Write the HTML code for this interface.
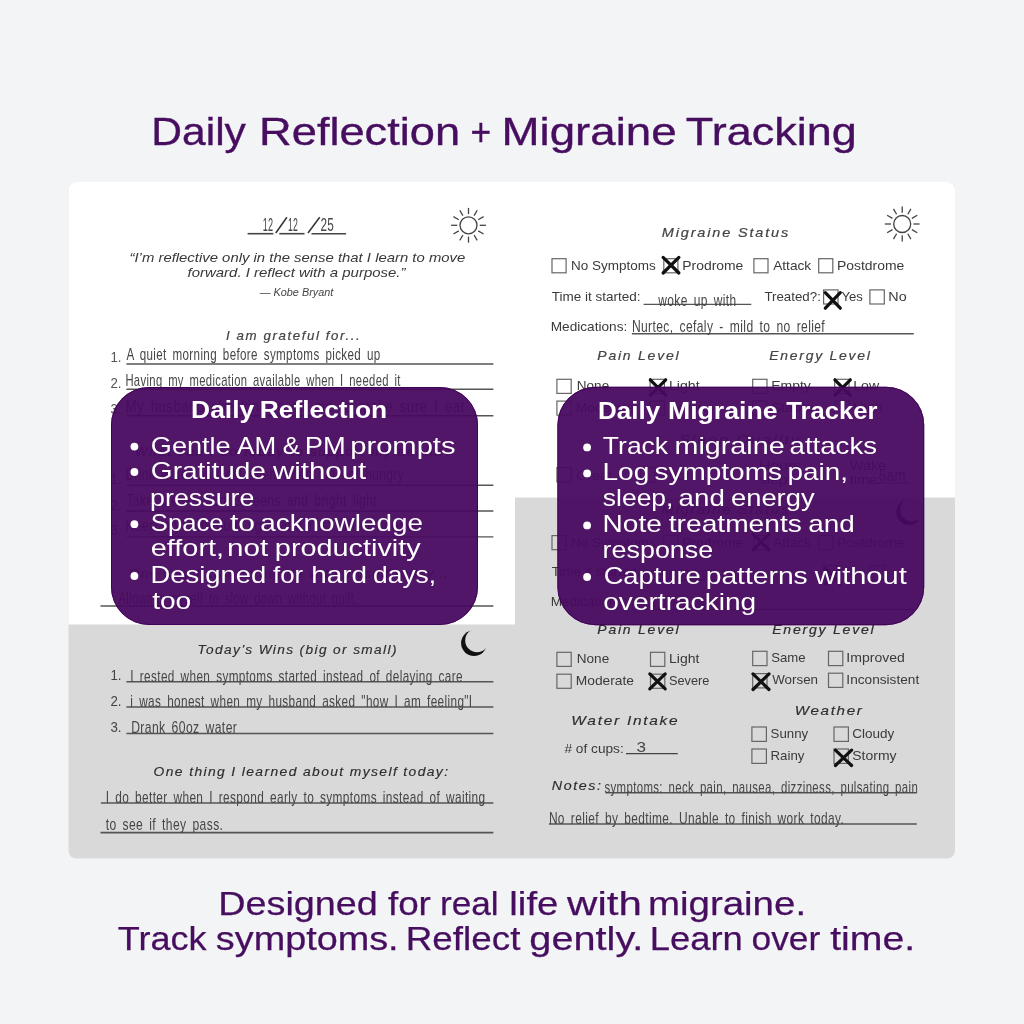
<!DOCTYPE html><html><head><meta charset="utf-8"><style>html,body{margin:0;padding:0;background:#f3f4f6;width:1024px;height:1024px;overflow:hidden}svg{display:block;font-family:"Liberation Sans",sans-serif;will-change:transform}</style></head><body>
<svg width="1024" height="1024" viewBox="0 0 1024 1024">
<rect width="1024" height="1024" fill="#f3f4f6"/>
<clipPath id="card"><rect x="68.5" y="182" width="886.5" height="676.5" rx="8"/></clipPath>
<g clip-path="url(#card)">
<rect x="68" y="182" width="888" height="677" fill="#d9d9d9"/>
<rect x="68" y="182" width="447" height="442.5" fill="#ffffff"/>
<rect x="515" y="182" width="441" height="315.5" fill="#ffffff"/>
</g>
<line x1="247.6" y1="233.7" x2="273.4" y2="233.7" stroke="#444" stroke-width="1.6"/>
<line x1="279.3" y1="233.7" x2="304.5" y2="233.7" stroke="#444" stroke-width="1.6"/>
<line x1="311.5" y1="233.7" x2="346.1" y2="233.7" stroke="#444" stroke-width="1.6"/>
<line x1="275.8" y1="233" x2="286.9" y2="217.3" stroke="#333" stroke-width="1.5"/>
<line x1="308" y1="233" x2="319.7" y2="217.3" stroke="#333" stroke-width="1.5"/>
<circle cx="468.5" cy="225.3" r="8.5" fill="none" stroke="#444" stroke-width="1.35"/><line x1="479.70" y1="225.30" x2="485.90" y2="225.30" stroke="#444" stroke-width="1.3"/><line x1="478.20" y1="230.90" x2="483.57" y2="234.00" stroke="#444" stroke-width="1.3"/><line x1="474.10" y1="235.00" x2="477.20" y2="240.37" stroke="#444" stroke-width="1.3"/><line x1="468.50" y1="236.50" x2="468.50" y2="242.70" stroke="#444" stroke-width="1.3"/><line x1="462.90" y1="235.00" x2="459.80" y2="240.37" stroke="#444" stroke-width="1.3"/><line x1="458.80" y1="230.90" x2="453.43" y2="234.00" stroke="#444" stroke-width="1.3"/><line x1="457.30" y1="225.30" x2="451.10" y2="225.30" stroke="#444" stroke-width="1.3"/><line x1="458.80" y1="219.70" x2="453.43" y2="216.60" stroke="#444" stroke-width="1.3"/><line x1="462.90" y1="215.60" x2="459.80" y2="210.23" stroke="#444" stroke-width="1.3"/><line x1="468.50" y1="214.10" x2="468.50" y2="207.90" stroke="#444" stroke-width="1.3"/><line x1="474.10" y1="215.60" x2="477.20" y2="210.23" stroke="#444" stroke-width="1.3"/><line x1="478.20" y1="219.70" x2="483.57" y2="216.60" stroke="#444" stroke-width="1.3"/>
<line x1="126.4" y1="364" x2="493.4" y2="364" stroke="#555" stroke-width="1.4"/>
<line x1="126.4" y1="389.3" x2="493.4" y2="389.3" stroke="#555" stroke-width="1.4"/>
<line x1="126.4" y1="415.7" x2="493.4" y2="415.7" stroke="#555" stroke-width="1.4"/>
<line x1="126.4" y1="485.2" x2="493.4" y2="485.2" stroke="#555" stroke-width="1.4"/>
<line x1="126.4" y1="511" x2="493.4" y2="511" stroke="#555" stroke-width="1.4"/>
<line x1="126.4" y1="536.9" x2="493.4" y2="536.9" stroke="#555" stroke-width="1.4"/>
<line x1="100.5" y1="606" x2="493.4" y2="606" stroke="#555" stroke-width="1.4"/>
<mask id="m1"><rect x="440" y="620" width="60" height="60" fill="#fff"/><circle cx="477.1" cy="640.4" r="11.9" fill="#000"/></mask><circle cx="474" cy="643.1" r="12.9" fill="#111" mask="url(#m1)"/>
<line x1="126.4" y1="681.8" x2="493.4" y2="681.8" stroke="#555" stroke-width="1.5"/>
<line x1="126.4" y1="707.1" x2="493.4" y2="707.1" stroke="#555" stroke-width="1.5"/>
<line x1="126.4" y1="733.5" x2="493.4" y2="733.5" stroke="#555" stroke-width="1.5"/>
<line x1="100.9" y1="802.9" x2="493.4" y2="802.9" stroke="#555" stroke-width="1.5"/>
<line x1="100.5" y1="832.7" x2="493.4" y2="832.7" stroke="#555" stroke-width="1.8"/>
<circle cx="902.2" cy="224" r="8.5" fill="none" stroke="#444" stroke-width="1.35"/><line x1="913.40" y1="224.00" x2="919.60" y2="224.00" stroke="#444" stroke-width="1.3"/><line x1="911.90" y1="229.60" x2="917.27" y2="232.70" stroke="#444" stroke-width="1.3"/><line x1="907.80" y1="233.70" x2="910.90" y2="239.07" stroke="#444" stroke-width="1.3"/><line x1="902.20" y1="235.20" x2="902.20" y2="241.40" stroke="#444" stroke-width="1.3"/><line x1="896.60" y1="233.70" x2="893.50" y2="239.07" stroke="#444" stroke-width="1.3"/><line x1="892.50" y1="229.60" x2="887.13" y2="232.70" stroke="#444" stroke-width="1.3"/><line x1="891.00" y1="224.00" x2="884.80" y2="224.00" stroke="#444" stroke-width="1.3"/><line x1="892.50" y1="218.40" x2="887.13" y2="215.30" stroke="#444" stroke-width="1.3"/><line x1="896.60" y1="214.30" x2="893.50" y2="208.93" stroke="#444" stroke-width="1.3"/><line x1="902.20" y1="212.80" x2="902.20" y2="206.60" stroke="#444" stroke-width="1.3"/><line x1="907.80" y1="214.30" x2="910.90" y2="208.93" stroke="#444" stroke-width="1.3"/><line x1="911.90" y1="218.40" x2="917.27" y2="215.30" stroke="#444" stroke-width="1.3"/>
<rect x="552.00" y="258.70" width="14.10" height="14.10" fill="none" stroke="#666" stroke-width="1.2"/>
<rect x="663.80" y="258.70" width="14.10" height="14.10" fill="none" stroke="#666" stroke-width="1.2"/>
<rect x="753.90" y="258.70" width="14.10" height="14.10" fill="none" stroke="#666" stroke-width="1.2"/>
<rect x="818.70" y="258.70" width="14.10" height="14.10" fill="none" stroke="#666" stroke-width="1.2"/>
<path d="M663.0999999999999 257.40000000000003L678.9000000000001 273.0M678.9000000000001 257.40000000000003L663.0999999999999 273.0" stroke="#111" stroke-width="3.2" stroke-linecap="round" fill="none"/>
<line x1="643.6" y1="304.4" x2="751.3" y2="304.4" stroke="#555" stroke-width="1.4"/>
<rect x="823.60" y="289.90" width="14.40" height="14.10" fill="none" stroke="#666" stroke-width="1.2"/>
<path d="M825.3 292.6L840.3000000000001 308.2M840.3000000000001 292.6L825.3 308.2" stroke="#111" stroke-width="3.2" stroke-linecap="round" fill="none"/>
<rect x="869.90" y="289.90" width="14.40" height="14.10" fill="none" stroke="#666" stroke-width="1.2"/>
<line x1="631.9" y1="333.7" x2="913.8" y2="333.7" stroke="#555" stroke-width="1.4"/>
<rect x="556.90" y="379.30" width="14.30" height="14.10" fill="none" stroke="#666" stroke-width="1.2"/>
<rect x="556.90" y="401.10" width="14.30" height="14.00" fill="none" stroke="#666" stroke-width="1.2"/>
<rect x="650.10" y="379.30" width="14.30" height="14.10" fill="none" stroke="#666" stroke-width="1.2"/>
<rect x="650.10" y="401.10" width="14.30" height="14.00" fill="none" stroke="#666" stroke-width="1.2"/>
<rect x="752.70" y="379.30" width="14.30" height="14.10" fill="none" stroke="#666" stroke-width="1.2"/>
<rect x="752.70" y="401.10" width="14.30" height="14.00" fill="none" stroke="#666" stroke-width="1.2"/>
<rect x="834.70" y="379.30" width="14.30" height="14.10" fill="none" stroke="#666" stroke-width="1.2"/>
<rect x="834.70" y="401.10" width="14.30" height="14.00" fill="none" stroke="#666" stroke-width="1.2"/>
<path d="M650.3 379.8L665.7 395.3M665.7 379.8L650.3 395.3" stroke="#111" stroke-width="3.2" stroke-linecap="round" fill="none"/>
<path d="M834.9 379.8L850.3000000000001 395.3M850.3000000000001 379.8L834.9 395.3" stroke="#111" stroke-width="3.2" stroke-linecap="round" fill="none"/>
<rect x="556.90" y="467.60" width="14.30" height="14.30" fill="none" stroke="#666" stroke-width="1.2"/>
<rect x="640.60" y="467.60" width="14.30" height="14.30" fill="none" stroke="#666" stroke-width="1.2"/>
<line x1="868" y1="483" x2="910" y2="483" stroke="#555" stroke-width="1.2"/>
<mask id="m2"><rect x="875.1" y="489.1" width="60" height="60" fill="#fff"/><circle cx="912.2" cy="509.5" r="11.9" fill="#000"/></mask><circle cx="909.1" cy="512.2" r="12.9" fill="#111" mask="url(#m2)"/>
<rect x="552.00" y="535.60" width="14.10" height="14.10" fill="none" stroke="#666" stroke-width="1.2"/>
<rect x="663.80" y="535.60" width="14.10" height="14.10" fill="none" stroke="#666" stroke-width="1.2"/>
<rect x="753.90" y="535.60" width="14.10" height="14.10" fill="none" stroke="#666" stroke-width="1.2"/>
<rect x="818.70" y="535.60" width="14.10" height="14.10" fill="none" stroke="#666" stroke-width="1.2"/>
<path d="M753.0999999999999 534.3L768.9000000000001 549.9000000000001M768.9000000000001 534.3L753.0999999999999 549.9000000000001" stroke="#111" stroke-width="3.2" stroke-linecap="round" fill="none"/>
<line x1="643.6" y1="580" x2="751.3" y2="580" stroke="#555" stroke-width="1.4"/>
<rect x="823.60" y="565.60" width="14.40" height="14.10" fill="none" stroke="#666" stroke-width="1.2"/>
<path d="M825.3 568.3L840.3000000000001 583.9000000000001M840.3000000000001 568.3L825.3 583.9000000000001" stroke="#111" stroke-width="3.2" stroke-linecap="round" fill="none"/>
<rect x="869.90" y="565.60" width="14.40" height="14.10" fill="none" stroke="#666" stroke-width="1.2"/>
<line x1="631.9" y1="609.5" x2="913.8" y2="609.5" stroke="#555" stroke-width="1.4"/>
<rect x="556.90" y="652.30" width="14.30" height="14.10" fill="none" stroke="#666" stroke-width="1.2"/>
<rect x="650.50" y="652.30" width="14.30" height="14.10" fill="none" stroke="#666" stroke-width="1.2"/>
<rect x="556.90" y="674.20" width="14.30" height="14.10" fill="none" stroke="#666" stroke-width="1.2"/>
<rect x="650.50" y="674.20" width="14.30" height="14.10" fill="none" stroke="#666" stroke-width="1.2"/>
<path d="M649.8 673.9L665.2 688.9000000000001M665.2 673.9L649.8 688.9000000000001" stroke="#111" stroke-width="3.2" stroke-linecap="round" fill="none"/>
<rect x="752.70" y="651.30" width="14.30" height="14.30" fill="none" stroke="#666" stroke-width="1.2"/>
<rect x="828.50" y="651.30" width="14.30" height="14.30" fill="none" stroke="#666" stroke-width="1.2"/>
<rect x="752.70" y="673.60" width="14.30" height="14.30" fill="none" stroke="#666" stroke-width="1.2"/>
<rect x="828.50" y="673.20" width="14.30" height="14.20" fill="none" stroke="#666" stroke-width="1.2"/>
<path d="M753.0 673.9L769.0 689.5M769.0 673.9L753.0 689.5" stroke="#111" stroke-width="3.2" stroke-linecap="round" fill="none"/>
<line x1="626" y1="753.7" x2="677.8" y2="753.7" stroke="#444" stroke-width="1.3"/>
<rect x="751.90" y="727.00" width="14.50" height="14.40" fill="none" stroke="#666" stroke-width="1.2"/>
<rect x="834.00" y="727.00" width="14.40" height="14.40" fill="none" stroke="#666" stroke-width="1.2"/>
<rect x="751.90" y="749.00" width="14.50" height="14.40" fill="none" stroke="#666" stroke-width="1.2"/>
<rect x="834.00" y="749.00" width="14.40" height="14.40" fill="none" stroke="#666" stroke-width="1.2"/>
<path d="M835.4 750.0999999999999L851.6 765.5M851.6 750.0999999999999L835.4 765.5" stroke="#111" stroke-width="3.2" stroke-linecap="round" fill="none"/>
<line x1="605.5" y1="792.8" x2="916.8" y2="792.8" stroke="#555" stroke-width="1.4"/>
<line x1="548.9" y1="824" x2="916.8" y2="824" stroke="#555" stroke-width="1.5"/>
<text x="151.21" y="144.80" textLength="94.69" lengthAdjust="spacingAndGlyphs" fill="#470e60" style="font-size:39.3px;stroke:#470e60;stroke-width:0.35px;">Daily</text>
<text x="259.11" y="144.80" textLength="200.98" lengthAdjust="spacingAndGlyphs" fill="#470e60" style="font-size:39.3px;stroke:#470e60;stroke-width:0.35px;">Reflection</text>
<text x="470.53" y="144.80" textLength="20.65" lengthAdjust="spacingAndGlyphs" fill="#470e60" style="font-size:39.3px;stroke:#470e60;stroke-width:0.35px;">+</text>
<text x="501.51" y="144.80" textLength="175.15" lengthAdjust="spacingAndGlyphs" fill="#470e60" style="font-size:39.3px;stroke:#470e60;stroke-width:0.35px;">Migraine</text>
<text x="685.88" y="144.80" textLength="170.89" lengthAdjust="spacingAndGlyphs" fill="#470e60" style="font-size:39.3px;stroke:#470e60;stroke-width:0.35px;">Tracking</text>
<text x="218.30" y="914.90" textLength="159.58" lengthAdjust="spacingAndGlyphs" fill="#470e60" style="font-size:32.6px;stroke:#470e60;stroke-width:0.25px;">Designed</text>
<text x="387.90" y="914.90" textLength="43.01" lengthAdjust="spacingAndGlyphs" fill="#470e60" style="font-size:32.6px;stroke:#470e60;stroke-width:0.25px;">for</text>
<text x="439.93" y="914.90" textLength="58.75" lengthAdjust="spacingAndGlyphs" fill="#470e60" style="font-size:32.6px;stroke:#470e60;stroke-width:0.25px;">real</text>
<text x="509.34" y="914.90" textLength="49.08" lengthAdjust="spacingAndGlyphs" fill="#470e60" style="font-size:32.6px;stroke:#470e60;stroke-width:0.25px;">life</text>
<text x="567.10" y="914.90" textLength="74.71" lengthAdjust="spacingAndGlyphs" fill="#470e60" style="font-size:32.6px;stroke:#470e60;stroke-width:0.25px;">with</text>
<text x="647.93" y="914.90" textLength="158.17" lengthAdjust="spacingAndGlyphs" fill="#470e60" style="font-size:32.6px;stroke:#470e60;stroke-width:0.25px;">migraine.</text>
<text x="117.79" y="949.60" textLength="88.81" lengthAdjust="spacingAndGlyphs" fill="#470e60" style="font-size:32.6px;stroke:#470e60;stroke-width:0.25px;">Track</text>
<text x="215.88" y="949.60" textLength="182.68" lengthAdjust="spacingAndGlyphs" fill="#470e60" style="font-size:32.6px;stroke:#470e60;stroke-width:0.25px;">symptoms.</text>
<text x="405.71" y="949.60" textLength="114.70" lengthAdjust="spacingAndGlyphs" fill="#470e60" style="font-size:32.6px;stroke:#470e60;stroke-width:0.25px;">Reflect</text>
<text x="529.36" y="949.60" textLength="113.94" lengthAdjust="spacingAndGlyphs" fill="#470e60" style="font-size:32.6px;stroke:#470e60;stroke-width:0.25px;">gently.</text>
<text x="649.72" y="949.60" textLength="93.09" lengthAdjust="spacingAndGlyphs" fill="#470e60" style="font-size:32.6px;stroke:#470e60;stroke-width:0.25px;">Learn</text>
<text x="751.48" y="949.60" textLength="68.83" lengthAdjust="spacingAndGlyphs" fill="#470e60" style="font-size:32.6px;stroke:#470e60;stroke-width:0.25px;">over</text>
<text x="830.20" y="949.60" textLength="85.11" lengthAdjust="spacingAndGlyphs" fill="#470e60" style="font-size:32.6px;stroke:#470e60;stroke-width:0.25px;">time.</text>
<text transform="translate(0 230.80) scale(1 1.32)" x="262.67" y="0" textLength="10.67" lengthAdjust="spacingAndGlyphs" fill="#464646" style="font-size:14.258064516129032px;letter-spacing:0.4px;word-spacing:2.5px;">12</text>
<text transform="translate(0 230.80) scale(1 1.32)" x="287.90" y="0" textLength="10.14" lengthAdjust="spacingAndGlyphs" fill="#464646" style="font-size:14.258064516129032px;letter-spacing:0.4px;word-spacing:2.5px;">12</text>
<text transform="translate(0 230.80) scale(1 1.32)" x="320.38" y="0" textLength="13.75" lengthAdjust="spacingAndGlyphs" fill="#464646" style="font-size:14.258064516129032px;letter-spacing:0.4px;word-spacing:2.5px;">25</text>
<text x="129.50" y="261.70" textLength="335.81" lengthAdjust="spacingAndGlyphs" fill="#383838" style="font-size:13.6px;font-style:italic;">“I’m reflective only in the sense that I learn to move</text>
<text x="187.50" y="277.20" textLength="218.00" lengthAdjust="spacingAndGlyphs" fill="#383838" style="font-size:13.6px;font-style:italic;">forward. I reflect with a purpose.”</text>
<text x="259.70" y="295.60" textLength="73.60" lengthAdjust="spacingAndGlyphs" fill="#444" style="font-size:10px;font-style:italic;">— Kobe Bryant</text>
<text x="226.00" y="339.50" textLength="135.30" lengthAdjust="spacingAndGlyphs" fill="#444" style="font-size:12.6px;stroke:#444;stroke-width:0.2px;font-style:italic;letter-spacing:1.5px;">I am grateful for...</text>
<text x="110.44" y="362.00" textLength="11.06" lengthAdjust="spacingAndGlyphs" fill="#555" style="font-size:14px;">1.</text>
<text x="110.44" y="388.40" textLength="11.06" lengthAdjust="spacingAndGlyphs" fill="#555" style="font-size:14px;">2.</text>
<text x="110.44" y="413.70" textLength="11.06" lengthAdjust="spacingAndGlyphs" fill="#555" style="font-size:14px;">3.</text>
<text transform="translate(0 360.20) scale(1 1.32)" x="126.40" y="0" textLength="254.20" lengthAdjust="spacingAndGlyphs" fill="#464646" style="font-size:13.0px;letter-spacing:0.4px;word-spacing:2.5px;">A quiet morning before symptoms picked up</text>
<text transform="translate(0 386.00) scale(1 1.32)" x="125.40" y="0" textLength="275.41" lengthAdjust="spacingAndGlyphs" fill="#464646" style="font-size:13.0px;letter-spacing:0.4px;word-spacing:2.5px;">Having my medication available when I needed it</text>
<text transform="translate(0 411.80) scale(1 1.32)" x="125.40" y="0" textLength="339.21" lengthAdjust="spacingAndGlyphs" fill="#464646" style="font-size:13.0px;letter-spacing:0.4px;word-spacing:2.5px;">My husband checking in on me to make sure I eat</text>
<text x="134.99" y="456.00" textLength="318.03" lengthAdjust="spacingAndGlyphs" fill="#444" style="font-size:12.6px;stroke:#444;stroke-width:0.2px;font-style:italic;letter-spacing:1.5px;">What can I do today to support my health?</text>
<text x="110.44" y="484.00" textLength="11.06" lengthAdjust="spacingAndGlyphs" fill="#555" style="font-size:14px;">1.</text>
<text x="110.44" y="510.00" textLength="11.06" lengthAdjust="spacingAndGlyphs" fill="#555" style="font-size:14px;">2.</text>
<text x="110.44" y="535.00" textLength="11.06" lengthAdjust="spacingAndGlyphs" fill="#555" style="font-size:14px;">3.</text>
<text transform="translate(0 479.60) scale(1 1.32)" x="125.40" y="0" textLength="278.61" lengthAdjust="spacingAndGlyphs" fill="#464646" style="font-size:13.0px;letter-spacing:0.4px;word-spacing:2.5px;">Drink water and eat even when I’m not hungry</text>
<text transform="translate(0 506.00) scale(1 1.32)" x="126.40" y="0" textLength="250.60" lengthAdjust="spacingAndGlyphs" fill="#464646" style="font-size:13.0px;letter-spacing:0.4px;word-spacing:2.5px;">Take breaks from screens and bright light</text>
<text transform="translate(0 531.00) scale(1 1.32)" x="125.39" y="0" textLength="296.22" lengthAdjust="spacingAndGlyphs" fill="#464646" style="font-size:13.0px;letter-spacing:0.4px;word-spacing:2.5px;">Keep my schedule light and rest when needed</text>
<text x="128.99" y="578.00" textLength="320.05" lengthAdjust="spacingAndGlyphs" fill="#444" style="font-size:12.6px;stroke:#444;stroke-width:0.2px;font-style:italic;letter-spacing:1.2px;">One way I can be gentle with myself today...</text>
<text transform="translate(0 603.50) scale(1 1.32)" x="118.40" y="0" textLength="239.21" lengthAdjust="spacingAndGlyphs" fill="#464646" style="font-size:13.0px;letter-spacing:0.4px;word-spacing:2.5px;">Allowing myself to slow down without guilt.</text>
<text x="197.58" y="654.40" textLength="200.25" lengthAdjust="spacingAndGlyphs" fill="#2e2e2e" style="font-size:12px;stroke:#2e2e2e;stroke-width:0.15px;font-style:italic;letter-spacing:1.2px;">Today’s Wins (big or small)</text>
<text x="110.44" y="680.40" textLength="11.06" lengthAdjust="spacingAndGlyphs" fill="#444" style="font-size:14px;">1.</text>
<text x="110.44" y="705.80" textLength="11.06" lengthAdjust="spacingAndGlyphs" fill="#444" style="font-size:14px;">2.</text>
<text x="110.44" y="732.00" textLength="11.06" lengthAdjust="spacingAndGlyphs" fill="#444" style="font-size:14px;">3.</text>
<text transform="translate(0 681.50) scale(1 1.32)" x="130.29" y="0" textLength="332.61" lengthAdjust="spacingAndGlyphs" fill="#464646" style="font-size:13.0px;letter-spacing:0.4px;word-spacing:2.5px;">I rested when symptoms started instead of delaying care</text>
<text transform="translate(0 707.00) scale(1 1.32)" x="130.29" y="0" textLength="342.22" lengthAdjust="spacingAndGlyphs" fill="#464646" style="font-size:13.0px;letter-spacing:0.4px;word-spacing:2.5px;">i was honest when my husband asked &quot;how I am feeling&quot;I</text>
<text transform="translate(0 733.00) scale(1 1.32)" x="131.19" y="0" textLength="106.02" lengthAdjust="spacingAndGlyphs" fill="#464646" style="font-size:13.0px;letter-spacing:0.4px;word-spacing:2.5px;">Drank 60oz water</text>
<text x="153.59" y="776.10" textLength="295.83" lengthAdjust="spacingAndGlyphs" fill="#2e2e2e" style="font-size:12px;stroke:#2e2e2e;stroke-width:0.15px;font-style:italic;letter-spacing:1.2px;">One thing I learned about myself today:</text>
<text transform="translate(0 802.50) scale(1 1.32)" x="105.69" y="0" textLength="379.81" lengthAdjust="spacingAndGlyphs" fill="#464646" style="font-size:13.0px;letter-spacing:0.4px;word-spacing:2.5px;">I do better when I respond early to symptoms instead of waiting</text>
<text transform="translate(0 830.00) scale(1 1.32)" x="105.70" y="0" textLength="117.61" lengthAdjust="spacingAndGlyphs" fill="#464646" style="font-size:13.0px;letter-spacing:0.4px;word-spacing:2.5px;">to see if they pass.</text>
<text x="661.80" y="237.20" textLength="128.24" lengthAdjust="spacingAndGlyphs" fill="#444" style="font-size:12.6px;stroke:#444;stroke-width:0.2px;font-style:italic;letter-spacing:1.6px;">Migraine Status</text>
<text x="570.98" y="269.80" textLength="84.82" lengthAdjust="spacingAndGlyphs" fill="#3a3a3a" style="font-size:12.6px;">No Symptoms</text>
<text x="682.26" y="269.80" textLength="61.07" lengthAdjust="spacingAndGlyphs" fill="#3a3a3a" style="font-size:12.6px;">Prodrome</text>
<text x="773.20" y="269.80" textLength="38.01" lengthAdjust="spacingAndGlyphs" fill="#3a3a3a" style="font-size:12.6px;">Attack</text>
<text x="836.97" y="269.80" textLength="67.27" lengthAdjust="spacingAndGlyphs" fill="#3a3a3a" style="font-size:12.6px;">Postdrome</text>
<text x="551.80" y="301.00" textLength="88.81" lengthAdjust="spacingAndGlyphs" fill="#3a3a3a" style="font-size:12.6px;">Time it started:</text>
<text transform="translate(0 305.50) scale(1 1.32)" x="658.30" y="0" textLength="78.22" lengthAdjust="spacingAndGlyphs" fill="#464646" style="font-size:13.0px;letter-spacing:0.4px;word-spacing:2.5px;">woke up with</text>
<text x="764.40" y="301.00" textLength="56.45" lengthAdjust="spacingAndGlyphs" fill="#3a3a3a" style="font-size:12.6px;">Treated?:</text>
<text x="841.44" y="301.00" textLength="21.48" lengthAdjust="spacingAndGlyphs" fill="#3a3a3a" style="font-size:12.6px;">Yes</text>
<text x="888.29" y="301.00" textLength="18.37" lengthAdjust="spacingAndGlyphs" fill="#3a3a3a" style="font-size:12.6px;">No</text>
<text x="550.77" y="330.70" textLength="76.47" lengthAdjust="spacingAndGlyphs" fill="#3a3a3a" style="font-size:12.6px;">Medications:</text>
<text transform="translate(0 332.00) scale(1 1.32)" x="631.89" y="0" textLength="193.21" lengthAdjust="spacingAndGlyphs" fill="#464646" style="font-size:13.0px;letter-spacing:0.4px;word-spacing:2.5px;">Nurtec, cefaly - mild to no relief</text>
<text x="597.30" y="360.10" textLength="83.03" lengthAdjust="spacingAndGlyphs" fill="#444" style="font-size:12.6px;stroke:#444;stroke-width:0.2px;font-style:italic;letter-spacing:1.6px;">Pain Level</text>
<text x="769.30" y="360.10" textLength="102.23" lengthAdjust="spacingAndGlyphs" fill="#444" style="font-size:12.6px;stroke:#444;stroke-width:0.2px;font-style:italic;letter-spacing:1.6px;">Energy Level</text>
<text x="576.76" y="389.80" textLength="32.45" lengthAdjust="spacingAndGlyphs" fill="#3a3a3a" style="font-size:12.6px;">None</text>
<text x="668.95" y="389.80" textLength="30.66" lengthAdjust="spacingAndGlyphs" fill="#3a3a3a" style="font-size:12.6px;">Light</text>
<text x="771.18" y="389.80" textLength="39.62" lengthAdjust="spacingAndGlyphs" fill="#3a3a3a" style="font-size:12.6px;">Empty</text>
<text x="853.24" y="389.80" textLength="25.89" lengthAdjust="spacingAndGlyphs" fill="#3a3a3a" style="font-size:12.6px;">Low</text>
<text x="575.76" y="411.50" textLength="58.28" lengthAdjust="spacingAndGlyphs" fill="#3a3a3a" style="font-size:12.6px;">Moderate</text>
<text x="668.95" y="411.50" textLength="40.48" lengthAdjust="spacingAndGlyphs" fill="#3a3a3a" style="font-size:12.6px;">Severe</text>
<text x="771.15" y="411.50" textLength="41.69" lengthAdjust="spacingAndGlyphs" fill="#3a3a3a" style="font-size:12.6px;">Stable</text>
<text x="853.23" y="411.50" textLength="29.51" lengthAdjust="spacingAndGlyphs" fill="#3a3a3a" style="font-size:12.6px;">High</text>
<text x="678.98" y="444.00" textLength="122.03" lengthAdjust="spacingAndGlyphs" fill="#444" style="font-size:12.6px;stroke:#444;stroke-width:0.2px;font-style:italic;letter-spacing:1.6px;">Sleep Quality</text>
<text x="575.97" y="480.00" textLength="36.03" lengthAdjust="spacingAndGlyphs" fill="#3a3a3a" style="font-size:12.6px;">Great</text>
<text x="658.97" y="480.00" textLength="31.03" lengthAdjust="spacingAndGlyphs" fill="#3a3a3a" style="font-size:12.6px;">Poor</text>
<text x="758.95" y="470.00" textLength="42.11" lengthAdjust="spacingAndGlyphs" fill="#3a3a3a" style="font-size:12.6px;">Hours</text>
<text x="758.94" y="484.00" textLength="37.12" lengthAdjust="spacingAndGlyphs" fill="#3a3a3a" style="font-size:12.6px;">slept:</text>
<text x="850.00" y="470.00" textLength="36.03" lengthAdjust="spacingAndGlyphs" fill="#3a3a3a" style="font-size:12.6px;">Wake</text>
<text x="850.00" y="484.00" textLength="31.03" lengthAdjust="spacingAndGlyphs" fill="#3a3a3a" style="font-size:12.6px;">time:</text>
<text transform="translate(0 481.00) scale(1 1.32)" x="878.91" y="0" textLength="27.17" lengthAdjust="spacingAndGlyphs" fill="#464646" style="font-size:13.0px;letter-spacing:0.4px;word-spacing:2.5px;">5am</text>
<text x="661.80" y="514.00" textLength="128.24" lengthAdjust="spacingAndGlyphs" fill="#444" style="font-size:12.6px;stroke:#444;stroke-width:0.2px;font-style:italic;letter-spacing:1.6px;">Migraine Status</text>
<text x="570.98" y="546.50" textLength="84.82" lengthAdjust="spacingAndGlyphs" fill="#3a3a3a" style="font-size:12.6px;">No Symptoms</text>
<text x="682.26" y="546.50" textLength="61.07" lengthAdjust="spacingAndGlyphs" fill="#3a3a3a" style="font-size:12.6px;">Prodrome</text>
<text x="773.20" y="546.50" textLength="38.01" lengthAdjust="spacingAndGlyphs" fill="#3a3a3a" style="font-size:12.6px;">Attack</text>
<text x="836.97" y="546.50" textLength="67.27" lengthAdjust="spacingAndGlyphs" fill="#3a3a3a" style="font-size:12.6px;">Postdrome</text>
<text x="551.80" y="576.00" textLength="88.81" lengthAdjust="spacingAndGlyphs" fill="#3a3a3a" style="font-size:12.6px;">Time it started:</text>
<text transform="translate(0 578.50) scale(1 1.32)" x="641.98" y="0" textLength="119.03" lengthAdjust="spacingAndGlyphs" fill="#464646" style="font-size:13.0px;letter-spacing:0.4px;word-spacing:2.5px;">increased from morning</text>
<text x="550.77" y="606.00" textLength="76.47" lengthAdjust="spacingAndGlyphs" fill="#3a3a3a" style="font-size:12.6px;">Medications:</text>
<text transform="translate(0 608.00) scale(1 1.32)" x="631.88" y="0" textLength="126.24" lengthAdjust="spacingAndGlyphs" fill="#464646" style="font-size:13.0px;letter-spacing:0.4px;word-spacing:2.5px;">Nurtec, cefaly, sleep - no relief.</text>
<text x="597.30" y="633.60" textLength="83.03" lengthAdjust="spacingAndGlyphs" fill="#2e2e2e" style="font-size:12.6px;stroke:#2e2e2e;stroke-width:0.2px;font-style:italic;letter-spacing:1.6px;">Pain Level</text>
<text x="772.20" y="633.60" textLength="103.23" lengthAdjust="spacingAndGlyphs" fill="#2e2e2e" style="font-size:12.6px;stroke:#2e2e2e;stroke-width:0.2px;font-style:italic;letter-spacing:1.6px;">Energy Level</text>
<text x="576.76" y="663.40" textLength="32.45" lengthAdjust="spacingAndGlyphs" fill="#3a3a3a" style="font-size:12.6px;">None</text>
<text x="668.98" y="663.40" textLength="30.42" lengthAdjust="spacingAndGlyphs" fill="#3a3a3a" style="font-size:12.6px;">Light</text>
<text x="575.76" y="685.30" textLength="58.28" lengthAdjust="spacingAndGlyphs" fill="#3a3a3a" style="font-size:12.6px;">Moderate</text>
<text x="668.95" y="685.30" textLength="40.48" lengthAdjust="spacingAndGlyphs" fill="#3a3a3a" style="font-size:12.6px;">Severe</text>
<text x="771.16" y="662.30" textLength="34.44" lengthAdjust="spacingAndGlyphs" fill="#3a3a3a" style="font-size:12.6px;">Same</text>
<text x="846.37" y="662.30" textLength="58.45" lengthAdjust="spacingAndGlyphs" fill="#3a3a3a" style="font-size:12.6px;">Improved</text>
<text x="772.20" y="684.30" textLength="45.82" lengthAdjust="spacingAndGlyphs" fill="#3a3a3a" style="font-size:12.6px;">Worsen</text>
<text x="846.39" y="684.30" textLength="72.81" lengthAdjust="spacingAndGlyphs" fill="#3a3a3a" style="font-size:12.6px;">Inconsistent</text>
<text x="571.27" y="725.40" textLength="108.12" lengthAdjust="spacingAndGlyphs" fill="#2e2e2e" style="font-size:12.6px;stroke:#2e2e2e;stroke-width:0.15px;font-style:italic;letter-spacing:1.4px;">Water Intake</text>
<text x="564.45" y="753.10" textLength="59.33" lengthAdjust="spacingAndGlyphs" fill="#3a3a3a" style="font-size:12.6px;"># of cups:</text>
<text transform="translate(0 752.00) scale(1 1.32)" x="636.50" y="0" textLength="10.14" lengthAdjust="spacingAndGlyphs" fill="#464646" style="font-size:11.32258064516129px;letter-spacing:0.4px;word-spacing:2.5px;">3</text>
<text x="794.66" y="714.60" textLength="68.89" lengthAdjust="spacingAndGlyphs" fill="#2e2e2e" style="font-size:12.6px;stroke:#2e2e2e;stroke-width:0.15px;font-style:italic;letter-spacing:1.4px;">Weather</text>
<text x="770.58" y="738.10" textLength="37.62" lengthAdjust="spacingAndGlyphs" fill="#3a3a3a" style="font-size:12.6px;">Sunny</text>
<text x="852.27" y="738.10" textLength="42.02" lengthAdjust="spacingAndGlyphs" fill="#3a3a3a" style="font-size:12.6px;">Cloudy</text>
<text x="770.55" y="760.20" textLength="33.86" lengthAdjust="spacingAndGlyphs" fill="#3a3a3a" style="font-size:12.6px;">Rainy</text>
<text x="852.26" y="760.20" textLength="44.26" lengthAdjust="spacingAndGlyphs" fill="#3a3a3a" style="font-size:12.6px;">Stormy</text>
<text x="551.80" y="789.80" textLength="50.88" lengthAdjust="spacingAndGlyphs" fill="#2e2e2e" style="font-size:12.6px;stroke:#2e2e2e;stroke-width:0.15px;font-style:italic;letter-spacing:1.4px;">Notes:</text>
<text transform="translate(0 792.50) scale(1 1.32)" x="604.49" y="0" textLength="313.62" lengthAdjust="spacingAndGlyphs" fill="#464646" style="font-size:13.0px;letter-spacing:0.4px;word-spacing:2.5px;">symptoms: neck pain, nausea, dizziness, pulsating pain</text>
<text transform="translate(0 823.50) scale(1 1.32)" x="548.89" y="0" textLength="295.22" lengthAdjust="spacingAndGlyphs" fill="#464646" style="font-size:13.0px;letter-spacing:0.4px;word-spacing:2.5px;">No relief by bedtime. Unable to finish work today.</text>
<rect x="111" y="387" width="367" height="238" rx="38" fill="#480a5f" fill-opacity="0.95"/>
<rect x="557.4" y="386.8" width="366.8" height="238.4" rx="38" fill="#480a5f" fill-opacity="0.95"/>
<rect x="111.5" y="387.5" width="366" height="237" rx="37.5" fill="none" stroke="#3e0056" stroke-width="1" stroke-opacity="0.9"/>
<rect x="557.9" y="387.3" width="365.8" height="237.4" rx="37.5" fill="none" stroke="#3e0056" stroke-width="1" stroke-opacity="0.9"/>
<circle cx="134.4" cy="446.6" r="3.9" fill="#fff"/>
<circle cx="134.4" cy="472" r="3.9" fill="#fff"/>
<circle cx="134.4" cy="524.2" r="3.9" fill="#fff"/>
<circle cx="134.4" cy="576" r="3.9" fill="#fff"/>
<circle cx="587.1" cy="447.4" r="3.9" fill="#fff"/>
<circle cx="587.1" cy="473.4" r="3.9" fill="#fff"/>
<circle cx="587.1" cy="525.4" r="3.9" fill="#fff"/>
<circle cx="587.1" cy="577" r="3.9" fill="#fff"/>
<text x="191.11" y="418.00" textLength="63.11" lengthAdjust="spacingAndGlyphs" fill="#ffffff" style="font-size:23.2px;font-weight:bold;">Daily</text>
<text x="259.85" y="418.00" textLength="127.28" lengthAdjust="spacingAndGlyphs" fill="#ffffff" style="font-size:23.2px;font-weight:bold;">Reflection</text>
<text x="150.87" y="454.00" textLength="79.77" lengthAdjust="spacingAndGlyphs" fill="#ffffff" style="font-size:23.8px;">Gentle</text>
<text x="237.10" y="454.00" textLength="39.06" lengthAdjust="spacingAndGlyphs" fill="#ffffff" style="font-size:23.8px;">AM</text>
<text x="282.75" y="454.00" textLength="17.08" lengthAdjust="spacingAndGlyphs" fill="#ffffff" style="font-size:23.8px;">&amp;</text>
<text x="304.77" y="454.00" textLength="40.93" lengthAdjust="spacingAndGlyphs" fill="#ffffff" style="font-size:23.8px;">PM</text>
<text x="350.23" y="454.00" textLength="105.33" lengthAdjust="spacingAndGlyphs" fill="#ffffff" style="font-size:23.8px;">prompts</text>
<text x="150.88" y="479.00" textLength="115.06" lengthAdjust="spacingAndGlyphs" fill="#ffffff" style="font-size:23.8px;">Gratitude</text>
<text x="273.00" y="479.00" textLength="93.20" lengthAdjust="spacingAndGlyphs" fill="#ffffff" style="font-size:23.8px;">without</text>
<text x="150.14" y="505.60" textLength="104.30" lengthAdjust="spacingAndGlyphs" fill="#ffffff" style="font-size:23.8px;">pressure</text>
<text x="150.87" y="531.40" textLength="72.68" lengthAdjust="spacingAndGlyphs" fill="#ffffff" style="font-size:23.8px;">Space</text>
<text x="230.00" y="531.40" textLength="25.10" lengthAdjust="spacingAndGlyphs" fill="#ffffff" style="font-size:23.8px;">to</text>
<text x="260.28" y="531.40" textLength="162.65" lengthAdjust="spacingAndGlyphs" fill="#ffffff" style="font-size:23.8px;">acknowledge</text>
<text x="150.85" y="556.40" textLength="73.19" lengthAdjust="spacingAndGlyphs" fill="#ffffff" style="font-size:23.8px;">effort,</text>
<text x="227.14" y="556.40" textLength="41.21" lengthAdjust="spacingAndGlyphs" fill="#ffffff" style="font-size:23.8px;">not</text>
<text x="274.87" y="556.40" textLength="145.84" lengthAdjust="spacingAndGlyphs" fill="#ffffff" style="font-size:23.8px;">productivity</text>
<text x="150.63" y="583.40" textLength="115.53" lengthAdjust="spacingAndGlyphs" fill="#ffffff" style="font-size:23.8px;">Designed</text>
<text x="273.00" y="583.40" textLength="30.20" lengthAdjust="spacingAndGlyphs" fill="#ffffff" style="font-size:23.8px;">for</text>
<text x="311.17" y="583.40" textLength="55.82" lengthAdjust="spacingAndGlyphs" fill="#ffffff" style="font-size:23.8px;">hard</text>
<text x="373.14" y="583.40" textLength="63.01" lengthAdjust="spacingAndGlyphs" fill="#ffffff" style="font-size:23.8px;">days,</text>
<text x="152.20" y="608.60" textLength="39.06" lengthAdjust="spacingAndGlyphs" fill="#ffffff" style="font-size:23.8px;">too</text>
<text x="598.03" y="418.70" textLength="62.07" lengthAdjust="spacingAndGlyphs" fill="#ffffff" style="font-size:23.2px;font-weight:bold;">Daily</text>
<text x="667.94" y="418.70" textLength="109.71" lengthAdjust="spacingAndGlyphs" fill="#ffffff" style="font-size:23.2px;font-weight:bold;">Migraine</text>
<text x="786.20" y="418.70" textLength="91.20" lengthAdjust="spacingAndGlyphs" fill="#ffffff" style="font-size:23.2px;font-weight:bold;">Tracker</text>
<text x="602.88" y="454.20" textLength="65.22" lengthAdjust="spacingAndGlyphs" fill="#ffffff" style="font-size:23.8px;">Track</text>
<text x="674.54" y="454.20" textLength="110.09" lengthAdjust="spacingAndGlyphs" fill="#ffffff" style="font-size:23.8px;">migraine</text>
<text x="789.57" y="454.20" textLength="87.46" lengthAdjust="spacingAndGlyphs" fill="#ffffff" style="font-size:23.8px;">attacks</text>
<text x="602.48" y="480.00" textLength="46.86" lengthAdjust="spacingAndGlyphs" fill="#ffffff" style="font-size:23.8px;">Log</text>
<text x="654.49" y="480.00" textLength="127.52" lengthAdjust="spacingAndGlyphs" fill="#ffffff" style="font-size:23.8px;">symptoms</text>
<text x="787.62" y="480.00" textLength="60.40" lengthAdjust="spacingAndGlyphs" fill="#ffffff" style="font-size:23.8px;">pain,</text>
<text x="602.85" y="506.00" textLength="70.56" lengthAdjust="spacingAndGlyphs" fill="#ffffff" style="font-size:23.8px;">sleep,</text>
<text x="678.62" y="506.00" textLength="46.23" lengthAdjust="spacingAndGlyphs" fill="#ffffff" style="font-size:23.8px;">and</text>
<text x="730.99" y="506.00" textLength="83.61" lengthAdjust="spacingAndGlyphs" fill="#ffffff" style="font-size:23.8px;">energy</text>
<text x="602.57" y="532.20" textLength="59.24" lengthAdjust="spacingAndGlyphs" fill="#ffffff" style="font-size:23.8px;">Note</text>
<text x="668.75" y="532.20" textLength="133.11" lengthAdjust="spacingAndGlyphs" fill="#ffffff" style="font-size:23.8px;">treatments</text>
<text x="808.33" y="532.20" textLength="46.58" lengthAdjust="spacingAndGlyphs" fill="#ffffff" style="font-size:23.8px;">and</text>
<text x="602.63" y="558.20" textLength="110.53" lengthAdjust="spacingAndGlyphs" fill="#ffffff" style="font-size:23.8px;">response</text>
<text x="603.67" y="584.40" textLength="97.07" lengthAdjust="spacingAndGlyphs" fill="#ffffff" style="font-size:23.8px;">Capture</text>
<text x="705.73" y="584.40" textLength="102.03" lengthAdjust="spacingAndGlyphs" fill="#ffffff" style="font-size:23.8px;">patterns</text>
<text x="814.80" y="584.40" textLength="91.90" lengthAdjust="spacingAndGlyphs" fill="#ffffff" style="font-size:23.8px;">without</text>
<text x="603.28" y="609.80" textLength="152.86" lengthAdjust="spacingAndGlyphs" fill="#ffffff" style="font-size:23.8px;">overtracking</text>
</svg></body></html>
